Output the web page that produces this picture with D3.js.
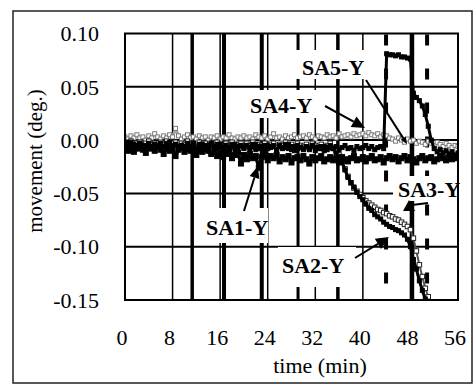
<!DOCTYPE html>
<html>
<head>
<meta charset="utf-8">
<script src="https://cdn.jsdelivr.net/npm/d3@7"></script>
<style>
  html, body { margin: 0; padding: 0; background: #fff; }
  svg { display: block; }
</style>
</head>
<body>
<svg id="chart" width="475" height="384"></svg>
<script>
// ---- data -------------------------------------------------------------
// one reading every half minute, 0 .. 56 min
const times = d3.range(0, 56.01, 0.5);

const xTicks = [0, 8, 16, 24, 32, 40, 48, 56];
const xTickLabels = ["0", "8", "16", "24", "32", "40", "48", "56"];
const yTicks = [0.10, 0.05, 0.00, -0.05, -0.10, -0.15];
const yTickLabels = ["0.10", "0.05", "0.00", "-0.05", "-0.10", "-0.15"];

// event markers (min)
const eventsSolid = [11.3, 16.65, 23.0, 29.1, 35.8, 48.3];
const eventsSolidWidth = [3.5, 4, 4, 3, 3.5, 4];
const eventsDashed = [43.9, 50.8];

// movement in millidegrees, one value per half minute
const sa1 = [
  -7, -10, -6, -11, -8, -5, -9, -12, -7, -8,
  -10, -6, -9, -13, -7, -10, -8, -15, -9, -7,
  -11, -8, -10, -7, -14, -9, -11, -8, -10, -13,
  -11, -15, -12, -16, -13, -11, -17, -14, -12, -22,
  -14, -18, -13, -17, -15, -26, -16, -14, -19, -15,
  -17, -14, -20, -16, -18, -15, -21, -17, -16, -19,
  -15, -18, -22, -16, -19, -17, -15, -20, -18, -16,
  -19, -17, -21, -16, -18, -20, -17, -15, -19, -18,
  -16, -20, -17, -15, -19, -18, -16, -21, -17, -15,
  -18, -16, -20, -17, -15, -19, -16, -18, -21, -17,
  -15, -19, -17, -16, -20, -18, -15, -17, -19, -16,
  -18, -16, -17
];
const sa2 = [
  -5, -2, -6, -4, -7, -3, -5, -8, -4, -6,
  -4, -7, -3, -6, -5, -2, -7, -4, -6, -5,
  -7, -4, -6, -3, -8, -5, -4, -7, -5, -3,
  -6, -8, -4, -7, -5, -9, -6, -4, -8, -5,
  -7, -5, -9, -6, -4, -8, -6, -10, -5, -7,
  -6, -9, -5, -8, -7, -4, -9, -6, -8, -7,
  -9, -6, -8, -5, -10, -7, -8, -6, -9, -7,
  -8, -12, -16, -21, -28, -35, -40, -44, -49, -53,
  -56, -60, -64, -66, -70, -72, -74, -77, -79, -81,
  -82, -84, -85, -87, -89, -93, -100, -112, -121, -132,
  -141, -149, -158, null, null, null, null, null, null, null,
  null, null, null
];
const sa3 = [
  -2, -4, -1, -5, -3, -2, -6, -3, -1, -4,
  -3, -5, -2, -4, -1, -6, -3, -2, -5, -3,
  -4, -1, -5, -3, -6, -2, -4, -3, -7, -3,
  -5, -2, -4, -6, -3, -5, -2, -7, -4, -3,
  -6, -3, -5, -2, -7, -4, -5, -3, -6, -4,
  -3, -7, -4, -5, -2, -6, -4, -8, -3, -5,
  -6, -4, -7, -3, -5, -6, -4, -8, -5, -3,
  -7, -10, -14, -20, -27, -34, -40, -45, -48, -51,
  -54, -57, -59, -61, -63, -65, -66, -68, -69, -71,
  -72, -74, -75, -77, -79, -81, -84, -92, -104, -117,
  -128, -139, -147, -156, null, null, null, null, null, null,
  null, null, null
];
const sa4 = [
  3, 1, 4, 2, 5, 2, 3, 0, 4, 2,
  6, 3, 1, 4, 2, 5, 3, 11, 4, 1,
  3, 5, 2, 3, 1, 4, 2, 3, 0, 3,
  2, 4, 1, 3, 2, 5, 2, 1, 3, 2,
  4, 2, 3, 1, 5, 3, 2, 4, 1, 3,
  6, 2, 3, 1, 4, 2, 3, 5, 2, 3,
  4, 2, 5, 3, 1, 4, 3, 2, 5, 3,
  4, 2, 6, 3, 4, 5, 3, 6, 4, 5,
  6, 4, 7, 5, 4, 6, 3, 5, 4, 2,
  1, -1, 2, 0, -2, 1, -1, 0, -3, -1,
  -2, -4, -1, -3, -5, -2, -4, -6, -3, -5,
  -7, -5, -6
];
const sa5 = [
  -3, -6, -2, -7, -5, -4, -8, -5, -3, -6,
  -5, -7, -4, -6, -3, -8, -5, -4, -7, -5,
  -6, -3, -7, -5, -8, -4, -6, -5, -9, -5,
  -7, -4, -6, -8, -5, -7, -4, -9, -6, -5,
  -8, -5, -7, -4, -9, -6, -7, -5, -8, -6,
  -5, -9, -6, -7, -4, -8, -6, -10, -5, -7,
  -8, -6, -9, -5, -7, -8, -6, -10, -7, -5,
  -8, -6, -9, -7, -5, -8, -7, -10, -6, -8,
  -7, -5, -8, -6, -9, -7, -6, -8, 81, 80,
  80, 79, 80, 78, 78, 77, 76, 44, 40, 37,
  32, 24, 13, 0, -8, -11, -9, -12, -10, -13,
  -11, -14, -12
];

// ---- layout -----------------------------------------------------------
const W = 475, H = 384;
const L = 125, R = 458, T = 33.5, B = 300;
const FONT = "Liberation Serif";

const x = d3.scaleLinear().domain([0, 56]).range([L, R]);
const y = d3.scaleLinear().domain([-0.15, 0.10]).range([B, T]);

const svg = d3.select("#chart");
svg.append("rect").attr("width", W).attr("height", H).attr("fill", "#fff");

// outer frame
svg.append("rect")
  .attr("x", 13).attr("y", 11).attr("width", 459).attr("height", 372)
  .attr("fill", "none").attr("stroke", "#222").attr("stroke-width", 1.5);

svg.append("defs").append("clipPath").attr("id", "plot")
  .append("rect").attr("x", L).attr("y", T).attr("width", R - L).attr("height", B - T);

const plot = svg.append("g").attr("clip-path", "url(#plot)");

// horizontal grid
plot.append("g").selectAll("line")
  .data(yTicks.slice(1, -1))
  .join("line")
  .attr("x1", L).attr("x2", R)
  .attr("y1", d => y(d)).attr("y2", d => y(d))
  .attr("stroke", "#000").attr("stroke-width", 2);

// vertical grid
plot.append("g").selectAll("line")
  .data(xTicks.slice(1, -1))
  .join("line")
  .attr("x1", d => x(d)).attr("x2", d => x(d))
  .attr("y1", T).attr("y2", B)
  .attr("stroke", "#000").attr("stroke-width", 1.5);

// event markers
plot.append("g").selectAll("line")
  .data(eventsSolid)
  .join("line")
  .attr("x1", d => x(d)).attr("x2", d => x(d))
  .attr("y1", T).attr("y2", B)
  .attr("stroke", "#000")
  .attr("stroke-width", (d, i) => eventsSolidWidth[i]);

plot.append("g").selectAll("line")
  .data(eventsDashed)
  .join("line")
  .attr("x1", d => x(d)).attr("x2", d => x(d))
  .attr("y1", T).attr("y2", B)
  .attr("stroke", "#000").attr("stroke-width", 4)
  .attr("stroke-dasharray", "11,23").attr("stroke-dashoffset", -1);

// ---- series -----------------------------------------------------------
const toPoints = arr => times.map((t, i) => ({ t, v: arr[i] == null ? null : arr[i] / 1000 }));

const line = d3.line()
  .defined(d => d.v != null)
  .x(d => x(d.t)).y(d => y(d.v));

const series = [
  { data: sa4, stroke: "#a2a2a2", width: 3, size: 4, fill: "#fff", mstroke: "#7a7a7a" },
  { data: sa3, stroke: "#555", width: 2, size: 4.5, fill: "#fff", mstroke: "#222" },
  { data: sa2, stroke: "#000", width: 3, size: 4, fill: "#000", mstroke: "#000" },
  { data: sa5, stroke: "#000", width: 3, size: 4, fill: "#000", mstroke: "#000" },
  { data: sa1, stroke: "#000", width: 3.5, size: 5, fill: "#000", mstroke: "#000" }
];

series.forEach(s => {
  const pts = toPoints(s.data);
  plot.append("path")
    .datum(pts)
    .attr("d", line)
    .attr("fill", "none")
    .attr("stroke", s.stroke)
    .attr("stroke-width", s.width)
    .attr("stroke-linejoin", "round");
  plot.append("g").selectAll("rect")
    .data(pts.filter(d => d.v != null))
    .join("rect")
    .attr("x", d => x(d.t) - s.size / 2)
    .attr("y", d => y(d.v) - s.size / 2)
    .attr("width", s.size).attr("height", s.size)
    .attr("fill", s.fill)
    .attr("stroke", s.mstroke).attr("stroke-width", 1);
});

// ---- annotations ------------------------------------------------------
const labels = [
  { text: "SA5-Y", x: 302, y: 75, box: [292, 50, 78, 29] },
  { text: "SA4-Y", x: 250, y: 113, box: [245, 90, 73, 28] },
  { text: "SA1-Y", x: 206, y: 235, box: [203, 208, 65, 35] },
  { text: "SA2-Y", x: 282, y: 273, box: [278, 247, 78, 40] },
  { text: "SA3-Y", x: 398, y: 197, box: [393, 176, 69, 25] }
];

const ann = svg.append("g");
labels.forEach(l => {
  ann.append("rect")
    .attr("x", l.box[0]).attr("y", l.box[1])
    .attr("width", l.box[2]).attr("height", l.box[3])
    .attr("fill", "#fff");
  ann.append("text")
    .attr("x", l.x).attr("y", l.y)
    .style("font-family", FONT)
    .attr("font-size", 22).attr("font-weight", "bold")
    .text(l.text);
});

function arrow(x1, y1, x2, y2, len, half) {
  const a = Math.atan2(y2 - y1, x2 - x1);
  const bx = x2 - len * Math.cos(a), by = y2 - len * Math.sin(a);
  ann.append("line")
    .attr("x1", x1).attr("y1", y1).attr("x2", bx).attr("y2", by)
    .attr("stroke", "#000").attr("stroke-width", 2);
  const px = -Math.sin(a) * half, py = Math.cos(a) * half;
  ann.append("path")
    .attr("d", `M${x2},${y2}L${bx + px},${by + py}L${bx - px},${by - py}Z`)
    .attr("fill", "#000");
}

arrow(366, 80, 407, 144, 7, 3);
arrow(325, 106, 365, 128, 13, 6);
arrow(244, 211, 258, 166, 12, 5);
arrow(355, 258, 389, 237, 13, 6);
// SA3-Y pointer
ann.append("line")
  .attr("x1", 428).attr("y1", 203).attr("x2", 412).attr("y2", 205)
  .attr("stroke", "#000").attr("stroke-width", 2);
ann.append("path")
  .attr("d", "M409,200L415,211L403,211Z")
  .attr("fill", "#000");

// plot border
svg.append("rect")
  .attr("x", L).attr("y", T).attr("width", R - L).attr("height", B - T)
  .attr("fill", "none").attr("stroke", "#000").attr("stroke-width", 2);

// ---- axes text --------------------------------------------------------
svg.append("g").selectAll("text")
  .data(yTicks)
  .join("text")
  .attr("x", 99)
  .attr("y", d => y(d))
  .attr("dy", "0.35em")
  .attr("text-anchor", "end")
  .style("font-family", FONT)
  .attr("font-size", 22)
  .text((d, i) => yTickLabels[i]);

svg.append("g").selectAll("text")
  .data(xTicks)
  .join("text")
  .attr("x", d => x(d) - 3)
  .attr("y", 345)
  .attr("text-anchor", "middle")
  .style("font-family", FONT)
  .attr("font-size", 22)
  .text((d, i) => xTickLabels[i]);

svg.append("text")
  .attr("x", 320).attr("y", 373)
  .attr("text-anchor", "middle")
  .style("font-family", FONT)
  .attr("font-size", 22)
  .text("time (min)");

svg.append("text")
  .attr("transform", "translate(42,161) rotate(-90)")
  .attr("text-anchor", "middle")
  .style("font-family", FONT)
  .attr("font-size", 21)
  .text("movement (deg.)");
</script>
</body>
</html>
